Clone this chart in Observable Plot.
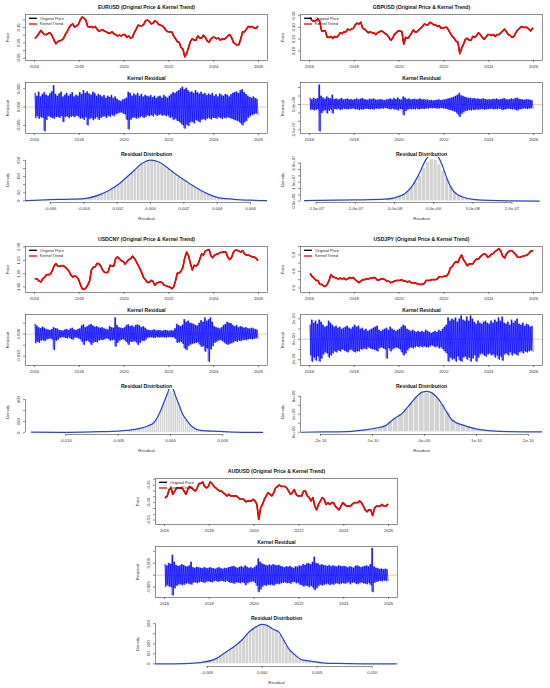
<!DOCTYPE html>
<html lang="en">
<head>
<meta charset="utf-8">
<title>Kernel trend and residuals</title>
<script src="https://cdn.jsdelivr.net/npm/d3@7"></script>
<script src="https://cdn.jsdelivr.net/npm/@observablehq/plot@0.6"></script>
<style>
  html, body { margin: 0; padding: 0; background: #ffffff; }
  #root { position: relative; width: 550px; height: 688px; overflow: hidden; background: #ffffff; }
  #root > svg { position: absolute; display: block; }
</style>
</head>
<body>
<div id="root"></div>
<script>
// ================= DATA =================
const START_YEAR = 2016;               // first month = Jan 2016, monthly values
const yearTicks  = [2016, 2018, 2020, 2022, 2024, 2026];
const yearLabels = ["2016", "2018", "2020", "2022", "2024", "2026"];
const legendLabels = ["Original Price", "Kernel Trend"];
const pairNames = ["EURUSD", "GBPUSD", "USDCNY", "USDJPY", "AUDUSD"];

// ---- monthly exchange rates (plotted as log price) ----
const eurPrice = [
  1.085,1.10,1.12,1.14,1.12,1.11,1.11,1.12,1.12,1.10,1.07,1.045,
  1.06,1.065,1.07,1.08,1.11,1.13,1.16,1.18,1.19,1.165,1.175,1.185,
  1.22,1.245,1.235,1.22,1.17,1.165,1.17,1.16,1.17,1.15,1.135,1.14,
  1.145,1.135,1.13,1.12,1.12,1.13,1.115,1.11,1.10,1.105,1.10,1.11,
  1.11,1.09,1.10,1.085,1.09,1.125,1.15,1.18,1.175,1.175,1.185,1.215,
  1.22,1.21,1.19,1.195,1.215,1.205,1.185,1.18,1.175,1.16,1.14,1.13,
  1.13,1.13,1.10,1.08,1.06,1.055,1.02,1.01,0.96,0.98,1.02,1.06,
  1.08,1.07,1.07,1.10,1.085,1.085,1.105,1.09,1.065,1.055,1.08,1.09,
  1.09,1.08,1.085,1.07,1.08,1.075,1.085,1.10,1.11,1.09,1.055,1.045,
  1.035,1.04,1.08,1.13,1.13,1.15,1.17,1.165,1.17,1.16,1.155,1.17
];
const gbpPrice = [
  1.46,1.43,1.42,1.43,1.45,1.42,1.31,1.31,1.31,1.24,1.24,1.25,
  1.23,1.25,1.24,1.26,1.29,1.28,1.30,1.30,1.33,1.32,1.33,1.34,
  1.38,1.40,1.39,1.41,1.34,1.33,1.31,1.29,1.30,1.29,1.29,1.27,
  1.29,1.30,1.31,1.30,1.28,1.27,1.24,1.21,1.23,1.27,1.29,1.31,
  1.31,1.30,1.17,1.24,1.23,1.25,1.28,1.32,1.30,1.30,1.32,1.34,
  1.36,1.39,1.38,1.38,1.41,1.40,1.38,1.38,1.36,1.37,1.34,1.34,
  1.35,1.35,1.32,1.28,1.25,1.23,1.20,1.19,1.08,1.13,1.17,1.22,
  1.23,1.21,1.21,1.25,1.24,1.26,1.29,1.27,1.24,1.22,1.24,1.27,
  1.27,1.26,1.27,1.25,1.27,1.27,1.29,1.31,1.33,1.30,1.27,1.26,
  1.24,1.25,1.29,1.32,1.34,1.36,1.35,1.35,1.35,1.33,1.31,1.34
];
const cnyPrice = [
  6.56,6.55,6.50,6.48,6.56,6.60,6.66,6.66,6.67,6.76,6.88,6.94,
  6.88,6.87,6.89,6.89,6.85,6.80,6.75,6.65,6.60,6.63,6.61,6.55,
  6.43,6.32,6.30,6.33,6.40,6.50,6.78,6.85,6.86,6.95,6.94,6.88,
  6.78,6.72,6.71,6.73,6.90,6.88,6.88,7.08,7.12,7.07,7.02,7.00,
  6.93,6.99,7.05,7.07,7.14,7.08,7.00,6.90,6.81,6.70,6.58,6.53,
  6.47,6.47,6.52,6.49,6.40,6.45,6.47,6.48,6.46,6.40,6.39,6.37,
  6.36,6.32,6.35,6.50,6.70,6.70,6.75,6.85,7.10,7.25,7.15,6.95,
  6.78,6.90,6.88,6.92,7.05,7.20,7.17,7.28,7.30,7.32,7.15,7.10,
  7.17,7.19,7.21,7.24,7.24,7.26,7.25,7.12,7.05,7.10,7.24,7.30,
  7.30,7.28,7.25,7.29,7.20,7.17,7.17,7.15,7.12,7.12,7.09,7.03
];
const jpyPrice = [
  118,114,112,109,109,104,104,102,101.5,104,109,117,
  114,113,112,111,112,111,112,110,111,113,112,113,
  110,108,106,108,110,110,111,111,112,112,113,112,
  109,110,111,111,110,108,108,106,107,108,109,109,
  109,110,108,108,107,108,106,106,106,105,104,104,
  104,105,109,109,109,110,110,110,111,114,114,114,
  115,115,119,127,129,134,137,135,143,148,140,135,
  130,133,133,133,138,141,141,145,148,150,149,144,
  146,150,151,155,157,160,155,146,143,150,154,156,
  156,152,149,144,144,145,146,147,148,151,155,156
];
const audPrice = [
  0.70,0.71,0.75,0.76,0.72,0.74,0.76,0.76,0.76,0.76,0.74,0.72,
  0.75,0.77,0.76,0.75,0.74,0.76,0.79,0.79,0.80,0.77,0.76,0.77,
  0.80,0.79,0.77,0.76,0.75,0.74,0.74,0.73,0.72,0.71,0.72,0.71,
  0.71,0.71,0.71,0.70,0.69,0.69,0.69,0.675,0.68,0.68,0.68,0.69,
  0.68,0.66,0.58,0.64,0.66,0.69,0.71,0.73,0.72,0.71,0.73,0.76,
  0.77,0.78,0.77,0.77,0.77,0.76,0.74,0.72,0.73,0.75,0.72,0.71,
  0.71,0.71,0.74,0.74,0.71,0.70,0.68,0.70,0.65,0.63,0.66,0.68,
  0.70,0.69,0.66,0.67,0.66,0.67,0.67,0.65,0.64,0.63,0.65,0.67,
  0.66,0.65,0.65,0.65,0.66,0.67,0.67,0.67,0.68,0.67,0.65,0.63,
  0.62,0.63,0.63,0.60,0.64,0.65,0.65,0.65,0.66,0.65,0.65,0.66
];

// ---- monthly residual envelope (upper / lower extremes), in the stated units ----
const eurResUnit = 1e-4;
const eurResHi = [
  38,30,41,28,35,40,33,30,36,42,59,35,
  30,36,41,28,33,38,30,35,40,28,33,30,
  40,35,45,38,42,36,33,41,38,30,35,32,
  28,32,25,30,27,32,24,28,22,18,16,20,
  22,25,41,38,30,36,32,38,30,35,28,32,
  30,28,32,26,30,24,28,30,25,32,28,25,
  30,35,40,38,42,45,50,55,48,52,45,40,
  42,38,45,40,36,41,35,38,32,36,33,38,
  30,34,28,36,32,30,35,33,28,34,38,40,
  42,38,45,48,40,35,30,27,25,28,24,22
];
const eurResLo = [
  -30,-25,-32,-28,-30,-66,-35,-25,-28,-30,-32,-27,
  -27,-30,-25,-41,-28,-26,-30,-27,-25,-28,-24,-26,
  -32,-30,-35,-28,-50,-33,-30,-36,-32,-28,-35,-30,
  -27,-25,-30,-24,-27,-22,-25,-20,-18,-16,-15,-18,
  -20,-35,-61,-35,-30,-28,-32,-30,-28,-26,-30,-27,
  -23,-25,-22,-26,-20,-24,-22,-20,-24,-22,-25,-23,
  -30,-28,-35,-32,-38,-40,-45,-50,-59,-48,-52,-42,
  -40,-45,-36,-38,-42,-35,-33,-36,-32,-30,-34,-30,
  -30,-32,-28,-30,-33,-29,-31,-28,-30,-32,-34,-36,
  -38,-40,-45,-50,-42,-38,-30,-25,-22,-20,-18,-20
];
const gbpResUnit = 1e-9;
const gbpResHi = [
  36,30,38,32,35,116,50,40,32,45,38,34,
  56,30,34,28,32,36,28,30,34,28,30,26,
  30,34,28,32,36,30,28,26,32,30,34,28,
  26,28,30,26,24,28,30,34,28,36,30,40,
  30,28,46,38,30,34,28,30,32,28,30,34,
  28,30,26,28,24,26,22,24,26,28,24,26,
  28,30,34,36,40,44,50,56,66,52,48,44,
  40,36,38,34,36,32,34,30,32,34,30,28,
  30,28,32,30,34,28,30,32,36,30,28,30,
  34,30,36,38,32,30,28,26,30,28,26,24
];
const gbpResLo = [
  -34,-30,-36,-32,-30,-160,-52,-40,-34,-54,-38,-32,
  -54,-28,-30,-26,-34,-30,-26,-28,-30,-26,-28,-24,
  -30,-28,-34,-30,-32,-28,-26,-28,-30,-28,-32,-26,
  -26,-28,-24,-26,-22,-24,-28,-30,-26,-32,-30,-36,
  -28,-30,-64,-40,-32,-28,-30,-28,-30,-26,-30,-28,
  -26,-28,-24,-26,-22,-24,-22,-24,-26,-24,-22,-24,
  -26,-28,-32,-34,-38,-42,-48,-60,-74,-56,-48,-40,
  -38,-34,-36,-32,-34,-30,-32,-30,-28,-32,-30,-28,
  -28,-26,-30,-28,-30,-26,-28,-34,-30,-28,-26,-28,
  -30,-28,-34,-36,-30,-28,-26,-24,-28,-26,-24,-22
];
const cnyResUnit = 1e-4;
const cnyResHi = [
  45,38,30,26,32,28,22,20,18,22,30,26,
  24,18,16,15,20,22,18,24,28,20,18,22,
  25,38,43,30,35,40,45,38,32,35,30,28,
  30,25,22,20,35,30,28,74,40,30,28,26,
  30,40,43,35,38,32,40,43,38,30,35,28,
  20,18,16,18,20,15,18,16,14,16,18,15,
  14,16,15,25,45,40,35,42,66,55,60,50,
  48,45,40,38,50,62,55,74,60,66,74,55,
  35,30,28,25,30,40,45,55,50,48,40,35,
  40,30,35,32,28,30,26,24,28,25,22,20
];
const cnyResLo = [
  -42,-35,-40,-30,-28,-32,-25,-22,-20,-25,-72,-30,
  -26,-18,-15,-14,-18,-20,-16,-22,-26,-18,-16,-20,
  -24,-35,-49,-32,-30,-38,-49,-40,-35,-38,-30,-26,
  -28,-24,-20,-22,-30,-28,-26,-57,-40,-30,-26,-24,
  -30,-38,-49,-35,-36,-32,-38,-49,-40,-30,-32,-26,
  -18,-16,-15,-17,-18,-14,-16,-15,-14,-15,-16,-14,
  -14,-15,-14,-22,-40,-38,-35,-45,-65,-72,-55,-48,
  -45,-42,-40,-38,-48,-58,-55,-80,-65,-126,-70,-55,
  -40,-35,-30,-26,-32,-38,-45,-49,-45,-42,-38,-32,
  -35,-30,-32,-28,-26,-28,-24,-22,-24,-22,-20,-18
];
const jpyResUnit = 1e-11;
const jpyResHi = [
  14,19,16,18,15,19,17,14,12,13,18,16,
  14,12,13,11,12,10,11,12,13,11,10,12,
  14,12,13,10,11,9,10,8,9,10,11,12,
  13,9,8,9,10,11,9,12,10,9,8,9,
  10,12,14,13,10,9,8,9,8,7,8,7,
  8,7,9,8,7,6,7,8,7,9,8,10,
  12,14,21,18,20,19,21,17,20,23,19,18,
  22,18,23,20,17,15,18,16,15,17,18,16,
  15,18,16,19,17,21,18,22,16,15,17,14,
  19,16,18,20,15,14,16,13,15,14,12,13
];
const jpyResLo = [
  -16,-22,-18,-21,-17,-22,-19,-15,-13,-14,-18,-16,
  -14,-12,-13,-11,-12,-10,-11,-12,-13,-11,-10,-12,
  -13,-12,-12,-10,-10,-9,-10,-8,-9,-10,-10,-11,
  -12,-9,-8,-9,-10,-19,-9,-12,-10,-9,-8,-9,
  -10,-13,-16,-14,-11,-9,-8,-9,-8,-7,-8,-7,
  -8,-7,-8,-8,-7,-6,-7,-8,-7,-9,-8,-10,
  -12,-14,-22,-18,-20,-19,-22,-17,-21,-22,-18,-17,
  -20,-18,-22,-19,-16,-22,-18,-15,-14,-16,-17,-15,
  -14,-16,-15,-18,-16,-20,-17,-21,-15,-14,-16,-13,
  -16,-14,-15,-16,-13,-12,-14,-12,-13,-12,-11,-12
];
const audResUnit = 1e-4;
const audResHi = [
  45,40,50,47,84,55,42,38,40,45,42,38,
  35,40,55,32,30,34,32,30,28,32,30,28,
  32,30,28,26,30,32,28,26,30,28,32,34,
  36,38,32,30,34,36,32,40,34,30,32,28,
  34,40,69,55,48,45,42,40,44,40,45,42,
  40,42,38,35,32,36,34,38,32,30,36,34,
  40,38,45,42,48,50,45,55,76,50,48,42,
  45,42,40,38,42,36,40,38,35,40,38,36,
  38,35,32,36,34,30,38,40,36,32,35,38,
  40,36,45,113,35,30,28,25,27,24,26,25
];
const audResLo = [
  -49,-42,-48,-50,-85,-55,-45,-40,-38,-42,-40,-36,
  -34,-38,-40,-32,-30,-34,-30,-28,-30,-32,-28,-26,
  -28,-30,-26,-24,-28,-26,-24,-26,-28,-24,-30,-32,
  -34,-36,-30,-32,-34,-30,-32,-42,-34,-30,-28,-26,
  -32,-45,-71,-60,-48,-42,-45,-40,-42,-40,-44,-38,
  -36,-38,-34,-32,-30,-34,-32,-36,-30,-28,-34,-32,
  -40,-42,-48,-44,-46,-50,-45,-52,-63,-55,-46,-40,
  -44,-40,-38,-36,-42,-38,-40,-36,-34,-38,-36,-34,
  -36,-34,-30,-38,-32,-30,-36,-38,-34,-30,-35,-36,
  -38,-34,-42,-71,-32,-28,-26,-24,-26,-22,-25,-24
];

// ---- residual histograms (density per bin) ----
const eurHistStart = -0.005, eurHistWidth = 0.0002;
const eurHist = [8,9,10,11,12,15,20,25,31,37,44,54,63,74,86,101,118,136,155,175,192,210,226,238,246,
                 247,242,232,222,210,195,180,162,147,133,120,104,92,80,70,60,50,42,33,26,19,15,12,10,9];
const gbpHistStart = -6e-8, gbpHistWidth = 5e-9;
const gbpHist = [1.5e6,2.0e6,2.6e6,3.8e6,5.5e6,8.0e6,1.1e7,1.5e7,2.0e7,2.6e7,3.1e7,3.3e7,
                 3.25e7,2.9e7,2.4e7,1.8e7,1.2e7,7.5e6,5.0e6,3.5e6,2.5e6,1.8e6,1.3e6,1.0e6];
const cnyHistStart = -0.004, cnyHistWidth = 0.0002;
const cnyHist = [20,22,25,29,34,39,45,50,56,64,74,85,100,128,165,205,255,300,345,370,
                 376,358,325,280,230,180,145,115,90,70,52,42,34,27,22,19,17,15,14,13];
const jpyHistStart = -1.5e-10, jpyHistWidth = 1e-11;
const jpyHist = [0.25e9,0.3e9,0.4e9,0.5e9,0.7e9,0.9e9,1.1e9,1.5e9,2.3e9,3.2e9,4.0e9,5.2e9,6.4e9,7.8e9,8.6e9,
                 8.8e9,8.4e9,7.5e9,6.2e9,4.4e9,2.8e9,2.0e9,1.6e9,1.2e9,0.8e9,0.6e9,0.45e9,0.35e9,0.25e9,0.2e9];
const audHistStart = -0.006, audHistWidth = 0.0003;
const audHist = [4,6,9,12,16,22,30,40,52,63,74,85,98,112,128,148,165,178,188,195,
                 196,190,180,170,162,145,118,90,68,50,38,27,20,16,13,11,8,6,5,4];

// ---- kernel density curves ----
const eurDensX = [-0.0075,-0.006,-0.005,-0.004,-0.003,-0.0025,-0.002,-0.0015,-0.001,-0.0005,0,0.0005,0.001,0.0015,0.002,0.0025,0.003,0.0035,0.004,0.005,0.006,0.007];
const eurDensY = [2,8,10,14,40,64,96,140,186,232,252,240,206,166,130,96,66,40,22,10,4,1];
const gbpDensX = [-1.65e-7,-1.0e-7,-6.2e-8,-4e-8,-2.8e-8,-1.9e-8,-1.06e-8,-5e-9,0,5e-9,1.06e-8,1.7e-8,2.3e-8,3.6e-8,5.3e-8,9.6e-8,1.35e-7];
const gbpDensY = [0.5e6,1.0e6,1.6e6,4.8e6,1.15e7,2.1e7,3.2e7,3.7e7,4.0e7,3.6e7,2.9e7,1.8e7,1.0e7,3.5e6,1.3e6,0.3e6,0.1e6];
const cnyDensX = [-0.0133,-0.0099,-0.0067,-0.0041,-0.0029,-0.0022,-0.0016,-0.00127,-0.00096,-0.00064,-0.00032,0,0.00025,0.00048,0.0008,0.0011,0.0016,0.0021,0.0029,0.0045,0.006,0.0088];
const cnyDensY = [6,3,9,21,39,61,91,136,197,273,348,420,395,333,258,182,106,52,21,12,6,3];
const jpyDensX = [-2.37e-10,-1.92e-10,-1.4e-10,-1.14e-10,-0.95e-10,-0.75e-10,-0.59e-10,-0.43e-10,-0.30e-10,-0.17e-10,-0.045e-10,0.05e-10,0.15e-10,0.28e-10,0.41e-10,0.54e-10,0.73e-10,0.99e-10,1.31e-10,1.63e-10,2.28e-10];
const jpyDensY = [0,0.07e9,0.22e9,0.52e9,0.89e9,1.48e9,2.96e9,4.2e9,5.9e9,7.7e9,8.9e9,9.1e9,8.7e9,7.2e9,4.8e9,2.6e9,1.63e9,0.74e9,0.3e9,0.15e9,0.07e9];
const audDensX = [-0.0097,-0.007,-0.00545,-0.00424,-0.00333,-0.00242,-0.00182,-0.00121,-0.00061,-0.00006,0.00045,0.00091,0.00152,0.00197,0.00242,0.00303,0.00364,0.00455,0.00545,0.00667,0.0097,0.0122];
const audDensY = [0,1.7,8,25,58,92,120,158,183,197,192,175,158,117,75,42,20,13,5,2,0.5,0];

// ---- axis ticks and tick labels ----
const eurPriceTicks = [-0.05,0,0.05,0.10,0.15,0.20], eurPriceLabelTicks = [-0.05,0.05,0.15], eurPriceLabels = ["-0.05","0.05","0.15"];
const gbpPriceTicks = [0.10,0.20,0.30,0.40], gbpPriceLabelTicks = [0.10,0.20,0.30,0.40], gbpPriceLabels = ["0.10","0.20","0.30","0.40"];
const cnyPriceTicks = [1.85,1.90,1.95,2.00], cnyPriceLabelTicks = [1.85,1.90,1.95,2.00], cnyPriceLabels = ["1.85","1.90","1.95","2.00"];
const jpyPriceTicks = [4.6,4.7,4.8,4.9,5.0,5.1], jpyPriceLabelTicks = [4.6,4.8,5.0], jpyPriceLabels = ["4.6","4.8","5.0"];
const audPriceTicks = [-0.55,-0.50,-0.45,-0.40,-0.35,-0.30,-0.25,-0.20], audPriceLabelTicks = [-0.55,-0.40,-0.25], audPriceLabels = ["-0.55","-0.40","-0.25"];

const eurResTicks = [-0.005,0,0.005], eurResLabelTicks = [-0.005,0,0.005], eurResLabels = ["-0.005","0.000","0.005"];
const gbpResTicks = [-1.5e-7,-1e-7,-5e-8,0,5e-8,1e-7], gbpResLabelTicks = [-1.5e-7,0], gbpResLabels = ["-1.5e-07","0.0e+00"];
const cnyResTicks = [-0.010,-0.005,0,0.005], cnyResLabelTicks = [-0.010,0], cnyResLabels = ["-0.010","0.000"];
const jpyResTicks = [-2e-10,-1e-10,0,1e-10,2e-10], jpyResLabelTicks = [-2e-10,0,2e-10], jpyResLabels = ["-2e-10","0e+00","2e-10"];
const audResTicks = [-0.005,0,0.005,0.010], audResLabelTicks = [-0.005,0.005], audResLabels = ["-0.005","0.005"];

const eurHistXTicks = [-0.006,-0.004,-0.002,0,0.002,0.004,0.006], eurHistXLabels = ["-0.006","-0.004","-0.002","0.000","0.002","0.004","0.006"];
const gbpHistXTicks = [-1.5e-7,-1e-7,-5e-8,0,5e-8,1e-7], gbpHistXLabels = ["-1.5e-07","-1.0e-07","-5.0e-08","0.0e+00","5.0e-08","1.0e-07"];
const cnyHistXTicks = [-0.010,-0.005,0,0.005], cnyHistXLabels = ["-0.010","-0.005","0.000","0.005"];
const jpyHistXTicks = [-2e-10,-1e-10,0,1e-10,2e-10], jpyHistXLabels = ["-2e-10","-1e-10","0e+00","1e-10","2e-10"];
const audHistXTicks = [-0.005,0,0.005,0.010], audHistXLabels = ["-0.005","0.000","0.005","0.010"];

const eurHistYTicks = [0,50,100,150,200,250], eurHistYLabelTicks = [0,50,150,250], eurHistYLabels = ["0","50","150","250"];
const gbpHistYTicks = [0,5e6,1e7,1.5e7,2e7,2.5e7,3e7], gbpHistYLabelTicks = [0,1.5e7,3e7], gbpHistYLabels = ["0.0e+00","1.5e+07","3.0e+07"];
const cnyHistYTicks = [0,100,200,300], cnyHistYLabelTicks = [0,100,300], cnyHistYLabels = ["0","100","300"];
const jpyHistYTicks = [0,2e9,4e9,6e9,8e9], jpyHistYLabelTicks = [0,4e9,8e9], jpyHistYLabels = ["0e+00","4e+09","8e+09"];
const audHistYTicks = [0,50,100,150,200], audHistYLabelTicks = [0,50,100,200], audHistYLabels = ["0","50","100","200"];

// ================= OPTIONS (built from the arrays above) =================
const pairs = [
  {name: pairNames[0], ox: 0, oy: 0, price: eurPrice, priceDomain: [-0.065, 0.235],
   priceTicks: eurPriceTicks, priceLabelTicks: eurPriceLabelTicks, priceLabels: eurPriceLabels,
   resHi: eurResHi, resLo: eurResLo, resUnit: eurResUnit, resDomain: [-0.0072, 0.0067],
   resTicks: eurResTicks, resLabelTicks: eurResLabelTicks, resLabels: eurResLabels,
   hist: eurHist, histStart: eurHistStart, histWidth: eurHistWidth, densX: eurDensX, densY: eurDensY,
   histXDomain: [-0.0075, 0.00702], histYDomain: [-10, 268],
   histXTicks: eurHistXTicks, histXLabels: eurHistXLabels,
   histYTicks: eurHistYTicks, histYLabelTicks: eurHistYLabelTicks, histYLabels: eurHistYLabels},
  {name: pairNames[1], ox: 275, oy: 0, price: gbpPrice, priceDomain: [0.018, 0.41],
   priceTicks: gbpPriceTicks, priceLabelTicks: gbpPriceLabelTicks, priceLabels: gbpPriceLabels,
   resHi: gbpResHi, resLo: gbpResLo, resUnit: gbpResUnit, resDomain: [-1.72e-7, 1.30e-7],
   resTicks: gbpResTicks, resLabelTicks: gbpResLabelTicks, resLabels: gbpResLabels,
   hist: gbpHist, histStart: gbpHistStart, histWidth: gbpHistWidth, densX: gbpDensX, densY: gbpDensY,
   histXDomain: [-1.70e-7, 1.39e-7], histYDomain: [-0.1e7, 3.45e7],
   histXTicks: gbpHistXTicks, histXLabels: gbpHistXLabels,
   histYTicks: gbpHistYTicks, histYLabelTicks: gbpHistYLabelTicks, histYLabels: gbpHistYLabels},
  {name: pairNames[2], ox: 0, oy: 232, price: cnyPrice, priceDomain: [1.829, 2.002],
   priceTicks: cnyPriceTicks, priceLabelTicks: cnyPriceLabelTicks, priceLabels: cnyPriceLabels,
   resHi: cnyResHi, resLo: cnyResLo, resUnit: cnyResUnit, resDomain: [-0.0142, 0.0089],
   resTicks: cnyResTicks, resLabelTicks: cnyResLabelTicks, resLabels: cnyResLabels,
   hist: cnyHist, histStart: cnyHistStart, histWidth: cnyHistWidth, densX: cnyDensX, densY: cnyDensY,
   histXDomain: [-0.01386, 0.00927], histYDomain: [-16, 392],
   histXTicks: cnyHistXTicks, histXLabels: cnyHistXLabels,
   histYTicks: cnyHistYTicks, histYLabelTicks: cnyHistYLabelTicks, histYLabels: cnyHistYLabels},
  {name: pairNames[3], ox: 275, oy: 232, price: jpyPrice, priceDomain: [4.546, 5.10],
   priceTicks: jpyPriceTicks, priceLabelTicks: jpyPriceLabelTicks, priceLabels: jpyPriceLabels,
   resHi: jpyResHi, resLo: jpyResLo, resUnit: jpyResUnit, resDomain: [-2.57e-10, 2.43e-10],
   resTicks: jpyResTicks, resLabelTicks: jpyResLabelTicks, resLabels: jpyResLabels,
   hist: jpyHist, histStart: jpyHistStart, histWidth: jpyHistWidth, densX: jpyDensX, densY: jpyDensY,
   histXDomain: [-2.385e-10, 2.27e-10], histYDomain: [-0.5e9, 9.5e9],
   histXTicks: jpyHistXTicks, histXLabels: jpyHistXLabels,
   histYTicks: jpyHistYTicks, histYLabelTicks: jpyHistYLabelTicks, histYLabels: jpyHistYLabels},
  {name: pairNames[4], ox: 130, oy: 464, price: audPrice, priceDomain: [-0.588, -0.193],
   priceTicks: audPriceTicks, priceLabelTicks: audPriceLabelTicks, priceLabels: audPriceLabels,
   resHi: audResHi, resLo: audResLo, resUnit: audResUnit, resDomain: [-0.0093, 0.0120],
   resTicks: audResTicks, resLabelTicks: audResLabelTicks, resLabels: audResLabels,
   hist: audHist, histStart: audHistStart, histWidth: audHistWidth, densX: audDensX, densY: audDensY,
   histXDomain: [-0.0097, 0.0123], histYDomain: [-13, 211],
   histXTicks: audHistXTicks, histXLabels: audHistXLabels,
   histYTicks: audHistYTicks, histYLabelTicks: audHistYLabelTicks, histYLabels: audHistYLabels}
];

// ================= DRAWING =================
const FONT = '"Liberation Sans", Arial, Helvetica, sans-serif';
const STYLE = {fontFamily: FONT, background: "transparent", color: "#3c3c3c", overflow: "visible"};
const TICK_FS = 4.2, TITLE_FS = 5.1;
const X_DOMAIN = [2015.6, 2026.4];
const PW = 275, ML = 25, MR = 8;
const root = document.getElementById("root");

function place(svg, left, top) {
  svg.style.position = "absolute";
  svg.style.left = left + "px";
  svg.style.top = top + "px";
  root.appendChild(svg);
}
const zipLabels = (ticks, labels) => ticks.map((v, i) => ({v, s: labels[i]}));

function xAxisMarks(ticks, labels) {
  return [
    Plot.axisX({ticks, tickSize: 2, tickFormat: () => "", strokeWidth: 0.6}),
    Plot.text(zipLabels(ticks, labels), {x: "v", text: "s", frameAnchor: "bottom", dy: 6.2,
      fontSize: TICK_FS, fill: "#333", lineAnchor: "middle"})
  ];
}
function yAxisMarks(ticks, labelTicks, labels) {
  return [
    Plot.axisY({ticks, tickSize: 2, tickFormat: () => "", strokeWidth: 0.6}),
    Plot.text(zipLabels(labelTicks, labels), {y: "v", text: "s", frameAnchor: "left", dx: -7.3, rotate: -90,
      fontSize: TICK_FS, fill: "#333", textAnchor: "middle", lineAnchor: "middle"})
  ];
}
const yTitle = (t) => Plot.text([t], {text: d => d, frameAnchor: "left", dx: -17.5, rotate: -90,
  fontSize: TICK_FS, fill: "#333", textAnchor: "middle", lineAnchor: "middle"});
const titleMark = (t, dy) => Plot.text([t], {text: d => d, frameAnchor: "top", dy,
  fontSize: TITLE_FS, fontWeight: "bold", fill: "#111", lineAnchor: "middle"});
const frameMark = () => Plot.frame({stroke: "#444", strokeWidth: 0.6});

function legendMark(index, scales, values, dims) {
  const g = d3.create("svg:g").attr("font-family", FONT).attr("font-size", 4).attr("text-anchor", "start");
  const colors = ["black", "red"];
  legendLabels.forEach((label, i) => {
    const y = dims.marginTop + 4.3 + i * 5.7;
    const x = dims.marginLeft + 4;
    g.append("line").attr("x1", x).attr("x2", x + 8).attr("y1", y).attr("y2", y)
      .attr("stroke", colors[i]).attr("stroke-width", 1.3);
    g.append("text").attr("x", x + 11).attr("y", y).attr("dy", "0.35em")
      .attr("text-anchor", "start").attr("fill", "#222").text(label);
  });
  return g.node();
}

function pricePanel(c) {
  const rows = c.price.map((p, i) => ({t: START_YEAR + (i + 0.5) / 12, p: Math.log(p)}));
  return Plot.plot({
    width: PW, height: 72, marginLeft: ML, marginRight: MR, marginTop: 14, marginBottom: 12,
    x: {domain: X_DOMAIN, axis: null}, y: {domain: c.priceDomain, axis: null}, style: STYLE,
    marks: [
      Plot.line(rows, {x: "t", y: "p", stroke: "black", strokeWidth: 1.3}),
      Plot.line(rows, {x: "t", y: "p", stroke: "red", strokeWidth: 1.6}),
      frameMark(),
      ...xAxisMarks(yearTicks, yearLabels),
      ...yAxisMarks(c.priceTicks, c.priceLabelTicks, c.priceLabels),
      yTitle("Price"),
      titleMark(`${c.name} (Original Price & Kernel Trend)`, -7.2),
      legendMark
    ]
  });
}

function residualPanel(c) {
  const zig = [];
  c.resHi.forEach((h, i) => {
    zig.push({t: START_YEAR + (i + 0.25) / 12, r: h * c.resUnit});
    zig.push({t: START_YEAR + (i + 0.75) / 12, r: c.resLo[i] * c.resUnit});
  });
  const band = c.resHi.map((h, i) => ({t: START_YEAR + (i + 0.5) / 12, hi: h * c.resUnit, lo: c.resLo[i] * c.resUnit}));
  return Plot.plot({
    width: PW, height: 72, marginLeft: ML, marginRight: MR, marginTop: 10, marginBottom: 11,
    x: {domain: X_DOMAIN, axis: null}, y: {domain: c.resDomain, axis: null}, style: STYLE,
    marks: [
      Plot.ruleY([0], {stroke: "red", strokeOpacity: 0.3, strokeWidth: 0.8}),
      Plot.areaY(band, {x: "t", y1: "lo", y2: "hi", fill: "#0000ff", fillOpacity: 0.55, curve: "step"}),
      Plot.line(zig, {x: "t", y: "r", stroke: "#0000ff", strokeWidth: 0.7, strokeOpacity: 0.9}),
      frameMark(),
      ...xAxisMarks(yearTicks, yearLabels),
      ...yAxisMarks(c.resTicks, c.resLabelTicks, c.resLabels),
      yTitle("Residual"),
      titleMark("Kernel Residual", -4)
    ]
  });
}

function histPanel(c) {
  const bins = c.hist.map((v, i) => ({x1: c.histStart + i * c.histWidth, x2: c.histStart + (i + 1) * c.histWidth, y0: 0, v}));
  const dens = c.densX.map((x, i) => ({x, d: c.densY[i]}));
  const xt = c.histXTicks, yt = c.histYTicks;
  return Plot.plot({
    width: PW, height: 80, marginLeft: ML, marginRight: MR, marginTop: 13, marginBottom: 22,
    x: {domain: c.histXDomain, axis: null}, y: {domain: c.histYDomain, axis: null}, style: STYLE,
    marks: [
      Plot.rect(bins, {x1: "x1", x2: "x2", y1: "y0", y2: "v", fill: "#d3d3d3", stroke: "#ffffff", strokeWidth: 0.45}),
      Plot.line(dens, {x: "x", y: "d", stroke: "#2b47c7", strokeWidth: 1.25, curve: "monotone-x", clip: true}),
      Plot.ruleY([{y: c.histYDomain[0], a: xt[0], b: xt[xt.length - 1]}], {y: "y", x1: "a", x2: "b", stroke: "#444", strokeWidth: 0.6}),
      Plot.ruleX([{x: c.histXDomain[0], a: yt[0], b: yt[yt.length - 1]}], {x: "x", y1: "a", y2: "b", stroke: "#444", strokeWidth: 0.6}),
      ...xAxisMarks(xt, c.histXLabels),
      ...yAxisMarks(yt, c.histYLabelTicks, c.histYLabels),
      yTitle("Density"),
      Plot.text(["Residual"], {text: d => d, frameAnchor: "bottom", dy: 16.5, fontSize: TICK_FS, fill: "#333", lineAnchor: "middle"}),
      titleMark("Residual Distribution", -3.5)
    ]
  });
}

pairs.forEach(c => {
  place(pricePanel(c), c.ox, c.oy);
  place(residualPanel(c), c.ox, c.oy + 72);
  place(histPanel(c), c.ox, c.oy + 144);
});
</script>
</body>
</html>
